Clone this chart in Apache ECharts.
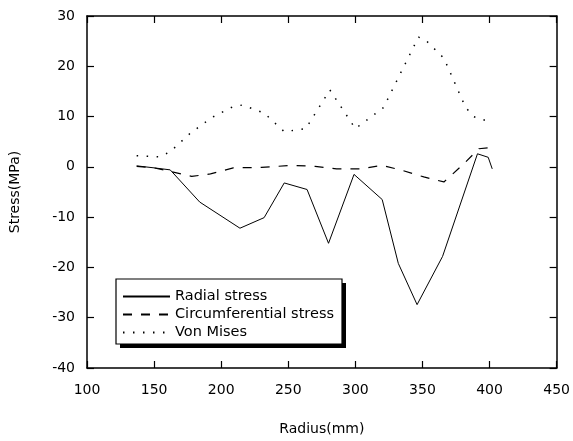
<!DOCTYPE html>
<html>
<head>
<meta charset="utf-8">
<script src="https://cdn.jsdelivr.net/npm/echarts@6/dist/echarts.min.js"></script>
<style>
  html, body { margin: 0; padding: 0; background: #fff; }
  #chart { width: 573px; height: 441px; }
</style>
</head>
<body>
<div id="chart"></div>
<script>
// Radius (mm) and stress (MPa) for each stress component
const radialRadius = [137, 150, 162, 184, 214, 232, 247, 264, 280, 299, 320, 332, 346, 365, 391, 399, 402];
const radialStress = [0.2, -0.2, -0.6, -7.0, -12.2, -10.1, -3.2, -4.5, -15.2, -1.5, -6.5, -19.2, -27.4, -17.8, 2.6, 1.9, -0.4];

const circRadius = [137, 150, 162, 178, 192, 209, 230, 253, 270, 286, 304, 320, 335, 351, 366, 380, 392, 399, 402];
const circStress = [0.1, -0.2, -0.9, -1.9, -1.4, -0.2, -0.1, 0.3, 0.1, -0.4, -0.4, 0.3, -0.7, -2.0, -3.0, 0.4, 3.6, 3.8, 3.6];

const vonMisesRadius = [137, 154, 162, 177, 193, 209, 216, 232, 247, 263, 281, 300, 321, 347, 352, 366, 382, 388, 402];
const vonMisesStress = [2.2, 2.0, 3.0, 6.7, 9.8, 12.0, 12.3, 10.7, 7.0, 7.6, 15.3, 7.6, 11.8, 25.8, 25.3, 21.6, 11.9, 10.0, 8.8];

const seriesNames = ['Radial stress', 'Circumferential stress', 'Von Mises'];

function pairs(xs, ys) {
  return xs.map((x, i) => [x, ys[i]]);
}

const FONT = 'DejaVu Sans';
const axisLine = { show: true, onZero: false, lineStyle: { color: '#000', width: 1.5 } };
const tick = { show: true, inside: true, length: 7, lineStyle: { color: '#000', width: 1.2 } };

// legend frame with a hard drop shadow
const LEG = { x: 116, y: 279, w: 226, h: 65, off: 4 };

const chart = echarts.init(document.getElementById('chart'), null, { renderer: 'canvas' });

chart.setOption({
  animation: false,
  backgroundColor: '#fff',
  grid: { left: 87, right: 15, top: 16, bottom: 70, containLabel: false },
  xAxis: [
    {
      type: 'value', min: 100, max: 450, interval: 50,
      name: 'Radius(mm)', nameLocation: 'middle', nameGap: 54,
      nameTextStyle: { fontFamily: FONT, fontSize: 14, color: '#000' },
      axisLine: axisLine, axisTick: tick, splitLine: { show: false },
      axisLabel: { margin: 15, fontFamily: FONT, fontSize: 14, color: '#000' }
    },
    {
      type: 'value', position: 'top', min: 100, max: 450, interval: 50,
      axisLine: axisLine, axisTick: tick, splitLine: { show: false },
      axisLabel: { show: false }
    }
  ],
  yAxis: [
    {
      type: 'value', min: -40, max: 30, interval: 10,
      name: 'Stress(MPa)', nameLocation: 'middle', nameGap: 65, nameRotate: 90,
      nameTextStyle: { fontFamily: FONT, fontSize: 14, color: '#000' },
      axisLine: axisLine, axisTick: tick, splitLine: { show: false },
      axisLabel: { margin: 12, fontFamily: FONT, fontSize: 14, color: '#000' }
    },
    {
      type: 'value', position: 'right', min: -40, max: 30, interval: 10,
      axisLine: axisLine, axisTick: tick, splitLine: { show: false },
      axisLabel: { show: false }
    }
  ],
  graphic: [
    {
      type: 'rect', z: 3, silent: true,
      shape: { x: LEG.x + LEG.off, y: LEG.y + LEG.off, width: LEG.w, height: LEG.h },
      style: { fill: '#000' }
    },
    {
      type: 'rect', z: 3, silent: true,
      shape: { x: LEG.x, y: LEG.y, width: LEG.w, height: LEG.h },
      style: { fill: '#fff', stroke: '#000', lineWidth: 1.2 }
    }
  ],
  legend: {
    orient: 'vertical',
    left: LEG.x, top: LEG.y,
    itemWidth: 47, itemHeight: 14, itemGap: 3,
    padding: [10, 6, 7, 6],
    z: 5,
    itemStyle: { color: 'rgba(0,0,0,0)', borderWidth: 0, opacity: 0 },
    textStyle: { fontFamily: FONT, fontSize: 14.5, color: '#000' },
    data: seriesNames
  },
  series: [
    {
      name: seriesNames[0], type: 'line', symbol: 'none',
      data: pairs(radialRadius, radialStress),
      lineStyle: { color: '#000', width: 1, type: 'solid' },
      itemStyle: { color: '#000' }
    },
    {
      name: seriesNames[1], type: 'line', symbol: 'none',
      data: pairs(circRadius, circStress),
      lineStyle: { color: '#000', width: 1.2, type: [9, 9] },
      itemStyle: { color: '#000' }
    },
    {
      name: seriesNames[2], type: 'line', symbol: 'none',
      data: pairs(vonMisesRadius, vonMisesStress),
      lineStyle: { color: '#000', width: 1.5, type: [1.5, 8.5] },
      itemStyle: { color: '#000' }
    }
  ]
});
</script>
</body>
</html>
